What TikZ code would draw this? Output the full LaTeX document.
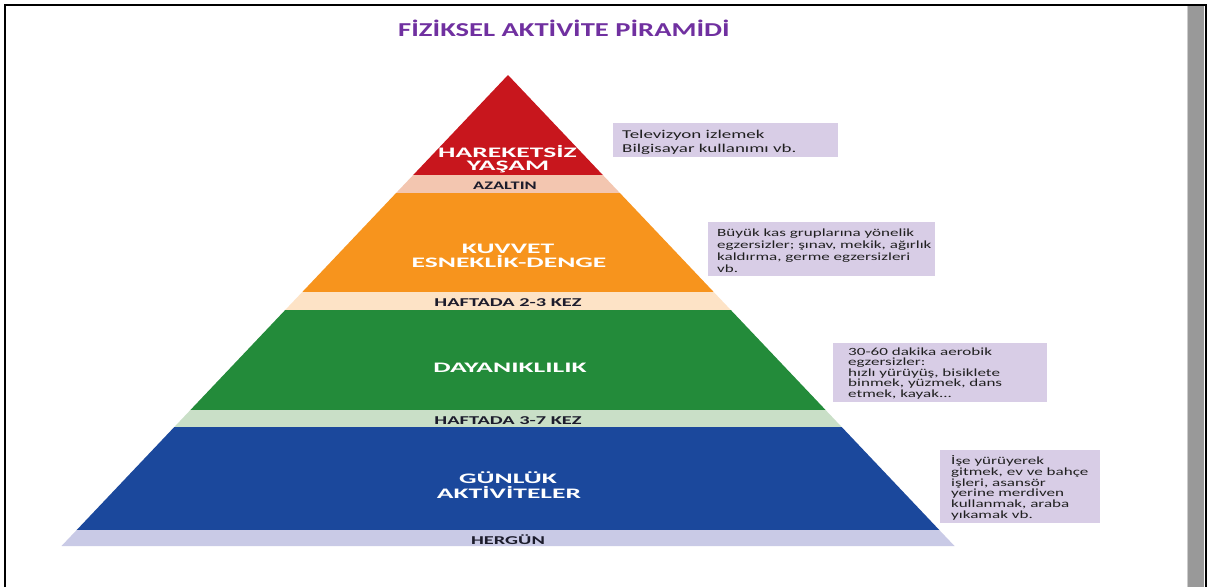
\documentclass[tikz,border=0pt]{standalone}
\usepackage{fontspec}
\setmainfont{Carlito}
\usepackage{graphicx}
\newcommand\ws[2]{\scalebox{#1}[1]{#2}}
\definecolor{pRed}{HTML}{C8161D}
\definecolor{pPeach}{HTML}{F3C6B0}
\definecolor{pOrange}{HTML}{F7941D}
\definecolor{pLOrange}{HTML}{FDE3C6}
\definecolor{pGreen}{HTML}{238B3A}
\definecolor{pLGreen}{HTML}{C9DFC7}
\definecolor{pBlue}{HTML}{1B489C}
\definecolor{pLav}{HTML}{C9CAE6}
\definecolor{boxfill}{HTML}{D8CDE6}
\definecolor{titlec}{HTML}{7030A0}
\definecolor{bandtext}{HTML}{1C1C2C}
\definecolor{boxtext}{HTML}{202020}
\begin{document}
\begin{tikzpicture}[x=1pt,y=-1pt,
  lbl/.style={text=white,font=\bfseries\fontsize{14.5}{14.5}\selectfont,anchor=base,inner sep=0pt},
  bandlbl/.style={text=bandtext,font=\bfseries\fontsize{12}{12}\selectfont,anchor=base,inner sep=0pt},
  boxtxt/.style={text=boxtext,font=\fontsize{11}{11}\selectfont,anchor=base west,inner sep=0pt},
  infobox/.style={fill=boxfill,draw=none}]
\useasboundingbox (0,0) rectangle (1207,587);
\fill[white] (0,0) rectangle (1207,587);
% frame
\fill[black!40] (1188,6) rectangle (1204,587);
\draw[black!20,line width=1pt] (1187.5,6) -- (1187.5,587);
\draw[black,line width=2pt] (5,587) -- (5,5) -- (1205.5,5) -- (1205.5,587);
% title
\node[font=\bfseries\fontsize{19.7}{20}\selectfont,text=titlec,anchor=base,inner sep=0pt] (title) at (564,36) {\ws{1.45}{FİZİKSEL AKTİVİTE PİRAMİDİ}};
% pyramid layers
\fill[pRed] (508,75) -- (602.8,175) -- (413.2,175) -- cycle;
\fill[pPeach] (413.2,175) -- (602.8,175) -- (619.9,193) -- (396.1,193) -- cycle;
\fill[pOrange] (396.1,193) -- (619.9,193) -- (713.7,292) -- (302.3,292) -- cycle;
\fill[pLOrange] (302.3,292) -- (713.7,292) -- (730.8,310) -- (285.2,310) -- cycle;
\fill[pGreen] (285.2,310) -- (730.8,310) -- (825.6,410) -- (190.4,410) -- cycle;
\fill[pLGreen] (190.4,410) -- (825.6,410) -- (841.7,427) -- (174.3,427) -- cycle;
\fill[pBlue] (174.3,427) -- (841.7,427) -- (939.3,530) -- (76.7,530) -- cycle;
\fill[pLav] (76.7,530) -- (939.3,530) -- (954.5,546) -- (61.5,546) -- cycle;
% layer labels
\node[lbl] (l1a) at (507.5,157) {\ws{1.9}{HAREKETSİZ}};
\node[lbl] (l1b) at (508,170.5) {\ws{1.9}{YAŞAM}};
\node[bandlbl,font=\bfseries\fontsize{11.5}{11.5}\selectfont] (b1) at (505,189) {\ws{1.6}{AZALTIN}};
\node[lbl] (l2a) at (508,253) {\ws{1.9}{KUVVET}};
\node[lbl] (l2b) at (509,267) {\ws{1.9}{ESNEKLİK-DENGE}};
\node[bandlbl] (b2) at (508,306) {\ws{1.7}{HAFTADA 2-3 KEZ}};
\node[lbl] (l3) at (510,372) {\ws{1.9}{DAYANIKLILIK}};
\node[bandlbl] (b3) at (508,424) {\ws{1.7}{HAFTADA 3-7 KEZ}};
\node[lbl] (l4a) at (508,483) {\ws{1.9}{GÜNLÜK}};
\node[lbl] (l4b) at (509,498) {\ws{1.9}{AKTİVİTELER}};
\node[bandlbl] (b4) at (508,544) {\ws{1.7}{HERGÜN}};
% info boxes
\fill[infobox] (613,123) rectangle (838,157);
\node[boxtxt,font=\fontsize{12}{12}\selectfont] (t1a) at (622,138) {\ws{1.58}{Televizyon izlemek}};
\node[boxtxt,font=\fontsize{12}{12}\selectfont] (t1b) at (622,152) {\ws{1.58}{Bilgisayar kullanımı vb.}};
\fill[infobox] (708,222) rectangle (935,276);
\node[boxtxt] (t2a) at (717,236) {\ws{1.55}{Büyük kas gruplarına yönelik}};
\node[boxtxt] (t2b) at (717,248) {\ws{1.55}{egzersizler; şınav, mekik, ağırlık}};
\node[boxtxt] (t2c) at (717,260) {\ws{1.55}{kaldırma, germe egzersizleri}};
\node[boxtxt] (t2d) at (717,272) {\ws{1.55}{vb.}};
\fill[infobox] (833,343) rectangle (1047,402);
\node[boxtxt] (t3a) at (848,355) {\ws{1.55}{30-60 dakika aerobik}};
\node[boxtxt] (t3b) at (848,365.5) {\ws{1.55}{egzersizler:}};
\node[boxtxt] (t3c) at (848,376) {\ws{1.55}{hızlı yürüyüş, bisiklete}};
\node[boxtxt] (t3d) at (848,386.5) {\ws{1.55}{binmek, yüzmek, dans}};
\node[boxtxt] (t3e) at (848,397) {\ws{1.55}{etmek, kayak...}};
\fill[infobox] (940,450) rectangle (1100,523);
\node[boxtxt] (t4a) at (951,464) {\ws{1.55}{İşe yürüyerek}};
\node[boxtxt] (t4b) at (951,475) {\ws{1.55}{gitmek, ev ve bahçe}};
\node[boxtxt] (t4c) at (951,486) {\ws{1.55}{işleri, asansör}};
\node[boxtxt] (t4d) at (951,496.5) {\ws{1.55}{yerine merdiven}};
\node[boxtxt] (t4e) at (951,507.5) {\ws{1.55}{kullanmak, araba}};
\node[boxtxt] (t4f) at (951,518) {\ws{1.55}{yıkamak vb.}};
\end{tikzpicture}
\end{document}
